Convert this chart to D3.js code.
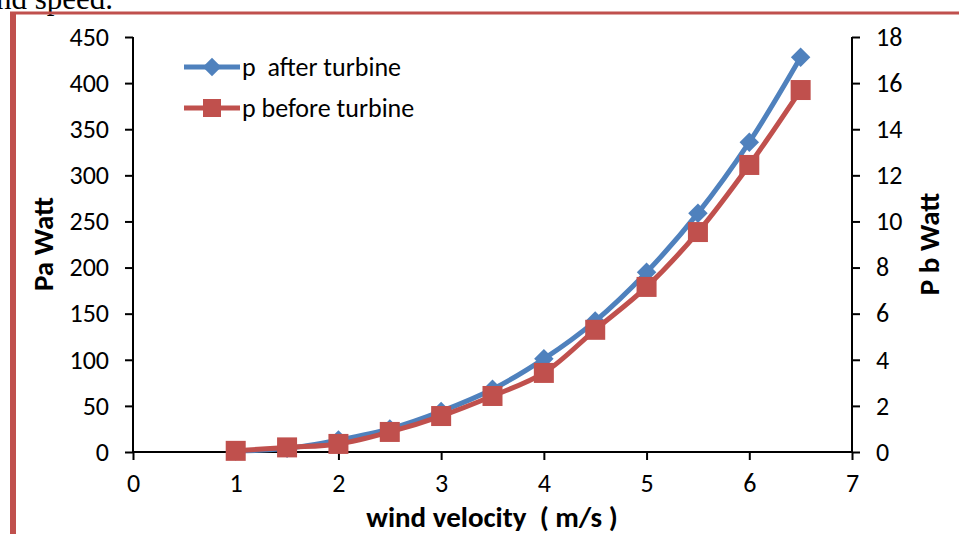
<!DOCTYPE html>
<html><head><meta charset="utf-8">
<script src="https://cdn.jsdelivr.net/npm/d3@7"></script>
<style>body{margin:0;background:#fff}svg{display:block}</style>
</head><body>
<script>
const velocity = [1, 1.5, 2, 2.5, 3, 3.5, 4, 4.5, 5, 5.5, 6, 6.5];
const pAfter = [1, 4, 13, 25, 44, 68, 101, 142, 195, 259, 336, 428];
const pBefore = [0.05, 0.2, 0.35, 0.87, 1.56, 2.43, 3.43, 5.3, 7.16, 9.54, 12.45, 15.7];
const xTicks = [0, 1, 2, 3, 4, 5, 6, 7];
const leftTicks = [0, 50, 100, 150, 200, 250, 300, 350, 400, 450];
const rightTicks = [0, 2, 4, 6, 8, 10, 12, 14, 16, 18];
const seriesNames = ["p  after turbine", "p before turbine"];

const W = 959, H = 534;
const svg = d3.select("body").append("svg").attr("width", W).attr("height", H);
const font = "Carlito, Calibri, Lato, 'Open Sans', sans-serif";

// caption fragment and frame
svg.append("text").attr("x", -4).attr("y", 9).attr("font-family", "'Liberation Serif', 'Times New Roman', serif")
  .attr("font-size", 31).attr("fill", "#000").text("nd speed.");
svg.append("line").attr("x1", 10).attr("x2", W).attr("y1", 13).attr("y2", 13).attr("stroke", "#C0504D").attr("stroke-width", 3);
svg.append("line").attr("x1", 13).attr("x2", 13).attr("y1", 12).attr("y2", H).attr("stroke", "#C0504D").attr("stroke-width", 6);

const x = d3.scaleLinear().domain([0, 7]).range([133, 852]);
const yL = d3.scaleLinear().domain([0, 450]).range([452, 37]);
const yR = d3.scaleLinear().domain([0, 18]).range([452, 37]);

const gx = svg.append("g").attr("transform", "translate(0,452)")
  .call(d3.axisBottom(x).tickValues(xTicks).tickSize(8).tickPadding(14).tickFormat(d3.format("d")));
const gl = svg.append("g").attr("transform", "translate(133,0)")
  .call(d3.axisLeft(yL).tickValues(leftTicks).tickSize(8).tickPadding(16));
const gr = svg.append("g").attr("transform", "translate(852,0)")
  .call(d3.axisRight(yR).tickValues(rightTicks).tickSize(8).tickPadding(16));
[gx, gl, gr].forEach(g => {
  g.select(".domain").attr("stroke", "#000").attr("stroke-width", 2);
  g.selectAll(".tick line").attr("stroke", "#000").attr("stroke-width", 2);
  g.selectAll(".tick text").attr("font-family", font).attr("font-size", 26).attr("fill", "#000");
});
gx.select(".domain").attr("d", "M133,0H852");
gl.select(".domain").attr("d", "M0,452V37");
gr.select(".domain").attr("d", "M0,452V37");

// axis titles
svg.append("text").attr("transform", "translate(53,244) rotate(-90)").attr("text-anchor", "middle")
  .attr("font-family", font).attr("font-weight", "bold").attr("font-size", 29).text("Pa Watt");
svg.append("text").attr("transform", "translate(939,244) rotate(-90)").attr("text-anchor", "middle")
  .attr("font-family", font).attr("font-weight", "bold").attr("font-size", 29).style("white-space", "pre").text("P b Watt");
svg.append("text").attr("x", 492).attr("y", 527).attr("text-anchor", "middle")
  .attr("font-family", font).attr("font-weight", "bold").attr("font-size", 29)
  .style("white-space", "pre").text("wind velocity  ( m/s )");

const blue = "#4F81BD", red = "#C0504D";
const lineA = d3.line().x((d, i) => x(velocity[i])).y(d => yL(d)).curve(d3.curveCatmullRom.alpha(0.5));
const lineB = d3.line().x((d, i) => x(velocity[i])).y(d => yR(d)).curve(d3.curveCatmullRom.alpha(0.5));

svg.append("path").datum(pAfter).attr("d", lineA).attr("fill", "none").attr("stroke", blue).attr("stroke-width", 5);
svg.append("g").selectAll("path").data(pAfter).join("path")
  .attr("d", d3.symbol().type(d3.symbolSquare).size(190))
  .attr("transform", (d, i) => `translate(${x(velocity[i])},${yL(d)}) rotate(45)`)
  .attr("fill", blue);

svg.append("path").datum(pBefore).attr("d", lineB).attr("fill", "none").attr("stroke", red).attr("stroke-width", 5);
svg.append("g").selectAll("rect").data(pBefore).join("rect")
  .attr("x", (d, i) => x(velocity[i]) - 10).attr("y", d => yR(d) - 10)
  .attr("width", 20).attr("height", 20).attr("fill", red);

// legend
const lg = svg.append("g");
[[blue, 67, "d"], [red, 108, "s"]].forEach(([c, yy, t], k) => {
  lg.append("line").attr("x1", 184).attr("x2", 240).attr("y1", yy).attr("y2", yy).attr("stroke", c).attr("stroke-width", 5);
  if (t === "d") lg.append("path").attr("d", d3.symbol().type(d3.symbolSquare).size(170)).attr("transform", `translate(212,${yy}) rotate(45)`).attr("fill", c);
  else lg.append("rect").attr("x", 203).attr("y", yy - 9).attr("width", 18).attr("height", 18).attr("fill", c);
  lg.append("text").attr("x", 242).attr("y", yy + 9).attr("font-family", font).attr("font-size", 26)
    .style("white-space", "pre").text(seriesNames[k]);
});
</script>
</body></html>
